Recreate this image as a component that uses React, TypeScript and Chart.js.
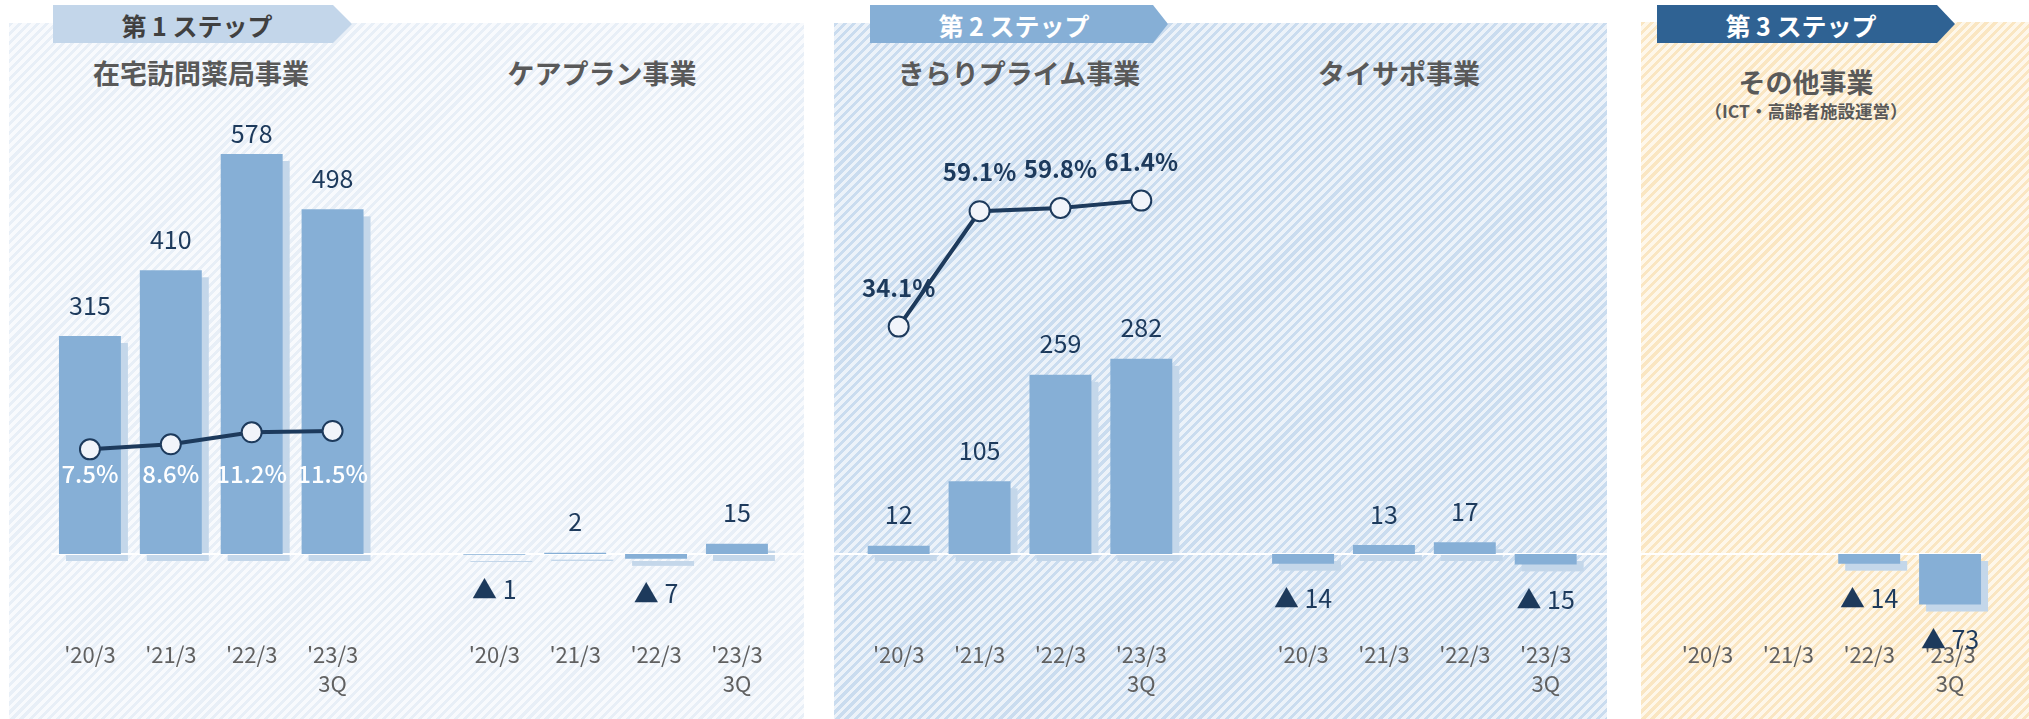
import React, { useEffect, useRef } from "react";
import { Chart, registerables } from "chart.js";

Chart.register(...registerables);

// ---------- data ----------
const categories: (string | string[])[] = ["'20/3", "'21/3", "'22/3", ["'23/3", "3Q"]];
const homePharmacyProfit: (number | null)[] = [315, 410, 578, 498];
const carePlanProfit: (number | null)[] = [-1, 2, -7, 15];
const kirariPrimeProfit: (number | null)[] = [12, 105, 259, 282];
const taisapoProfit: (number | null)[] = [-14, 13, 17, -15];
const otherProfit: (number | null)[] = [null, null, -14, -73];
const homePharmacyMargin: (number | null)[] = [7.5, 8.6, 11.2, 11.5];
const kirariPrimeShare: (number | null)[] = [34.1, 59.1, 59.8, 61.4];

const segmentTitles = ["在宅訪問薬局事業", "ケアプラン事業", "きらりプライム事業", "タイサポ事業", "その他事業"];
const segmentSubtitle = "（ICT・高齢者施設運営）";
const stepLabels = ["第 1 ステップ", "第 2 ステップ", "第 3 ステップ"];

// ---------- build library tables ----------
const groups = [homePharmacyProfit, carePlanProfit, kirariPrimeProfit, taisapoProfit, otherProfit];
const labels: (string | string[])[] = [];
const barData: (number | null)[] = [];
const marginLine: (number | null)[] = [];
const shareLine: (number | null)[] = [];
groups.forEach((g, gi) => {
  categories.forEach((c, ci) => {
    labels.push(c);
    barData.push(g[ci]);
    marginLine.push(gi === 0 ? homePharmacyMargin[ci] : null);
    shareLine.push(gi === 2 ? kirariPrimeShare[ci] : null);
  });
  if (gi < groups.length - 1) {
    labels.push("");
    barData.push(null);
    marginLine.push(null);
    shareLine.push(null);
  }
});

const FONT = '"Noto Sans CJK JP", "Noto Sans", sans-serif';
const BAR = "#86afd6";
const SHADOW = "#c4d7ea";
const NAVY = "#1d3a5c";

const decorPlugin = {
  id: "decor",
  beforeDatasetsDraw(chart: any) {
    const ctx = chart.ctx;
    const yS = chart.scales.y;
    const zero = yS.getPixelForValue(0);
    const meta = chart.getDatasetMeta(0);
    ctx.save();
    ctx.fillStyle = SHADOW;
    meta.data.forEach((bar: any, i: number) => {
      if (barData[i] == null) return;
      const p = bar.getProps(["x", "y", "base", "width"], true);
      const t = Math.min(p.y, p.base);
      const h = Math.max(Math.abs(p.base - p.y), 1);
      ctx.fillRect(p.x - p.width / 2 + 7, t + 7, p.width, h);
    });
    ctx.strokeStyle = "#ffffff";
    ctx.lineWidth = 2;
    ctx.beginPath();
    ctx.moveTo(chart.chartArea.left + 2, zero);
    ctx.lineTo(chart.chartArea.right - 6, zero);
    ctx.stroke();
    ctx.restore();
  },
  afterDatasetsDraw(chart: any) {
    const ctx = chart.ctx;
    const area = chart.chartArea;
    ctx.save();
    ctx.textAlign = "center";
    ctx.textBaseline = "middle";
    const meta = chart.getDatasetMeta(0);
    ctx.fillStyle = NAVY;
    ctx.font = `25px ${FONT}`;
    meta.data.forEach((bar: any, i: number) => {
      const v = barData[i];
      if (v == null) return;
      const p = bar.getProps(["x", "y", "base"], true);
      if (v >= 0) {
        const y = Math.max(Math.min(p.y, p.base) - 31, area.top + 112);
        ctx.fillText(String(v), p.x, y);
      } else {
        ctx.fillText("▲ " + Math.abs(v), p.x, Math.max(p.y, p.base) + 35);
      }
    });
    const m1 = chart.getDatasetMeta(1);
    const y2 = chart.scales.y2;
    ctx.fillStyle = "#ffffff";
    ctx.font = `500 24px ${FONT}`;
    m1.data.forEach((pt: any, i: number) => {
      const v = marginLine[i];
      if (v == null) return;
      ctx.fillText(v.toFixed(1) + "%", pt.x, y2.getPixelForValue(0) - 10);
    });
    const m2 = chart.getDatasetMeta(2);
    ctx.fillStyle = NAVY;
    ctx.font = `bold 24px ${FONT}`;
    m2.data.forEach((pt: any, i: number) => {
      const v = shareLine[i];
      if (v == null) return;
      ctx.fillText(v.toFixed(1) + "%", pt.x, pt.y - 39);
    });
    ctx.restore();
  },
};

const panels = [
  { x: 9, y: 23, w: 795, c1: "#e8eff7", c2: "#f8fafd" },
  { x: 834, y: 23, w: 773, c1: "#cadcef", c2: "#ecf2f9" },
  { x: 1641, y: 22, w: 388, c1: "#fae6c2", c2: "#fef7ea" },
];
const banners = [
  { x: 53, w: 299, rect: 280, bg: "#c3d6ea", color: "#404040" },
  { x: 870, w: 298, rect: 283, bg: "#86afd6", color: "#ffffff" },
  { x: 1657, w: 298, rect: 280, bg: "#2f6293", color: "#ffffff" },
];
const titlePos = [
  { x: 201, y: 72 },
  { x: 602, y: 72 },
  { x: 1019, y: 72 },
  { x: 1399, y: 72 },
  { x: 1806, y: 81 },
];

export default function App() {
  const ref = useRef<HTMLCanvasElement | null>(null);
  useEffect(() => {
    if (!ref.current) return;
    const chart = new Chart(ref.current, {
      type: "bar",
      data: {
        labels,
        datasets: [
          {
            type: "bar",
            data: barData,
            backgroundColor: BAR,
            borderWidth: 0,
            categoryPercentage: 1,
            barPercentage: 0.766,
            yAxisID: "y",
            order: 2,
          } as any,
          {
            type: "line",
            data: marginLine,
            borderColor: NAVY,
            borderWidth: 4,
            pointRadius: 10,
            pointBackgroundColor: "#f1f4fa",
            pointBorderColor: NAVY,
            pointBorderWidth: 2,
            spanGaps: false,
            yAxisID: "y2",
            order: 1,
          } as any,
          {
            type: "line",
            data: shareLine,
            borderColor: NAVY,
            borderWidth: 4,
            pointRadius: 10,
            pointBackgroundColor: "#f1f4fa",
            pointBorderColor: NAVY,
            pointBorderWidth: 2,
            spanGaps: false,
            yAxisID: "y2",
            order: 0,
          } as any,
        ],
      },
      options: {
        responsive: false,
        animation: false,
        layout: { padding: { left: 49.5, right: 38.5, top: 21, bottom: 0 } },
        plugins: { legend: { display: false }, tooltip: { enabled: false } },
        scales: {
          x: {
            grid: { display: false, drawTicks: false },
            border: { display: false },
            ticks: {
              autoSkip: false,
              maxRotation: 0,
              padding: 11,
              color: "#606060",
              font: { family: FONT, size: 22, lineHeight: 1.28 },
            },
            afterFit(scale: any) {
              scale.height = 89;
            },
          },
          y: { display: false, min: -109.8, max: 770.2 },
          y2: { display: false, min: -31.64, max: 100.32 },
        },
      },
      plugins: [decorPlugin],
    });
    return () => chart.destroy();
  }, []);

  return (
    <div
      style={{
        position: "fixed",
        left: 0,
        top: 0,
        width: 2029,
        height: 719,
        background: "#ffffff",
        overflow: "hidden",
        fontFamily: FONT,
      }}
    >
      {panels.map((p, i) => (
        <div
          key={"p" + i}
          style={{
            position: "absolute",
            left: p.x,
            top: p.y,
            width: p.w,
            height: 719 - p.y,
            background: `repeating-linear-gradient(135deg, ${p.c1} 0px, ${p.c1} 3px, ${p.c2} 3px, ${p.c2} 6.4px)`,
          }}
        />
      ))}
      {banners.map((b, i) => (
        <div
          key={"b" + i}
          style={{
            position: "absolute",
            left: b.x,
            top: 5,
            width: b.w,
            height: 38,
            background: b.bg,
            clipPath: `polygon(0 0, ${b.rect}px 0, ${b.w}px 50%, ${b.rect}px 100%, 0 100%)`,
          }}
        />
      ))}
      {banners.map((b, i) => (
        <div
          key={"bt" + i}
          style={{
            position: "absolute",
            left: b.x + 144,
            top: 25,
            transform: "translate(-50%, -50%)",
            whiteSpace: "nowrap",
            color: b.color,
            fontWeight: 700,
            fontSize: 25,
            lineHeight: 1,
          }}
        >
          {stepLabels[i]}
        </div>
      ))}
      {segmentTitles.map((t, i) => (
        <div
          key={"t" + i}
          style={{
            position: "absolute",
            left: titlePos[i].x,
            top: titlePos[i].y,
            transform: "translate(-50%, -50%)",
            whiteSpace: "nowrap",
            color: "#595959",
            fontWeight: 700,
            fontSize: 27,
            lineHeight: 1,
          }}
        >
          {t}
        </div>
      ))}
      <div
        style={{
          position: "absolute",
          left: 1806,
          top: 111,
          transform: "translate(-50%, -50%)",
          whiteSpace: "nowrap",
          color: "#595959",
          fontWeight: 700,
          fontSize: 17.5,
          lineHeight: 1,
        }}
      >
        {segmentSubtitle}
      </div>
      <canvas ref={ref} width={2029} height={719} style={{ position: "absolute", left: 0, top: 0 }} />
    </div>
  );
}
